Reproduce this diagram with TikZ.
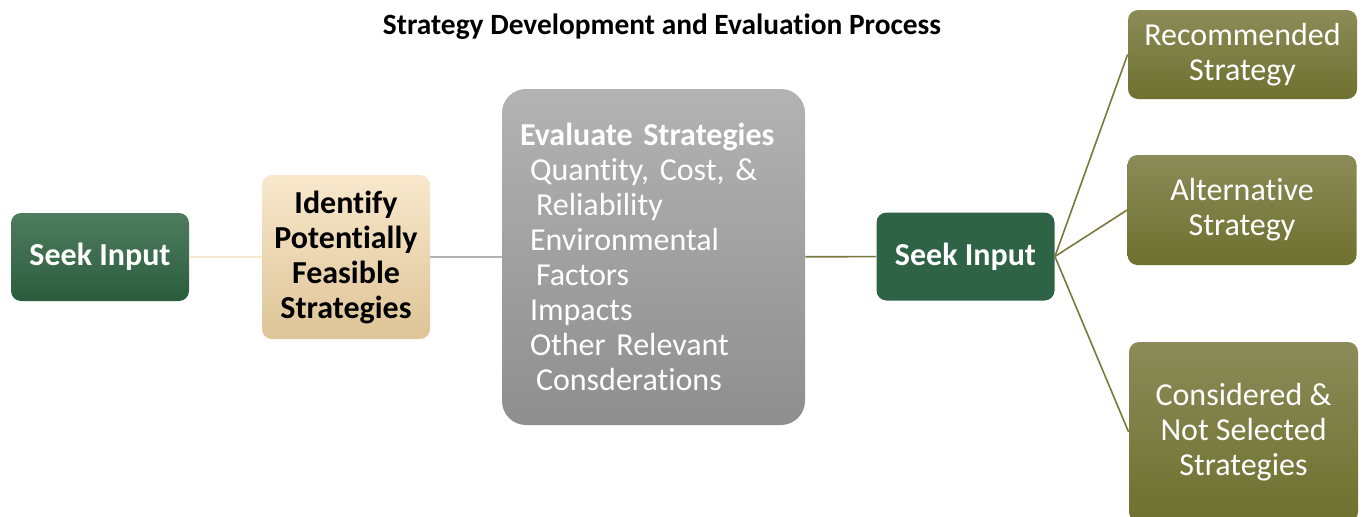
\documentclass[tikz,border=0pt]{standalone}
\usepackage{fontspec}
\setmainfont{Carlito}[Ligatures=NoCommon]
\usepackage{xcolor}
\usepackage{tikz}
\usetikzlibrary{positioning}

\definecolor{greenTop}{HTML}{4F7C5F}
\definecolor{greenBot}{HTML}{2A5D3C}
\definecolor{greenFlat}{HTML}{2F6346}
\definecolor{tanTop}{HTML}{F8E8CC}
\definecolor{tanBot}{HTML}{DEC497}
\definecolor{grayTop}{HTML}{B3B3B3}
\definecolor{grayBot}{HTML}{8E8E8E}
\definecolor{oliveTop}{HTML}{8B8B58}
\definecolor{oliveBot}{HTML}{6E712F}
\definecolor{oliveLine}{HTML}{7A783A}

\begin{document}
\begin{tikzpicture}[
  x=0.5pt, y=-0.5pt,
  font=\fontsize{16}{17.5}\selectfont,
  box/.style={rounded corners=5pt, inner sep=0pt, align=center},
  seek/.style={box, text=white, font=\fontsize{16}{17.5}\selectfont\bfseries, minimum width=89pt, minimum height=44pt},
  ident/.style={box, shading=axis, top color=tanTop, bottom color=tanBot, font=\fontsize{16}{17.5}\selectfont\bfseries, minimum width=84pt, minimum height=82pt},
  evalbox/.style={rounded corners=12pt, shading=axis, top color=grayTop, bottom color=grayBot, text=white, align=left, inner xsep=9pt, inner ysep=0pt, text width=133.5pt, minimum height=168pt},
  outcome/.style={box, shading=axis, top color=oliveTop, bottom color=oliveBot, text=white, minimum width=114.5pt},
  link/.style={line width=0.8pt}
]
  \useasboundingbox (0,0) rectangle (1365,516);

  \node[font=\fontsize{14.7}{16}\selectfont\bfseries] (title) at (662,27) {Strategy Development and Evaluation Process};

  \node[seek, shading=axis, top color=greenTop, bottom color=greenBot] (s_in1) at (100,257) {Seek Input};
  \node[ident] (idfy) at (346,257) {Identify\\Potentially\\Feasible\\Strategies};
  \node[evalbox] (evals) at (653.5,257) {
    \textbf{Evaluate Strategies}\\
    \hspace*{5pt}Quantity, Cost, \&\\
    \hspace*{8pt}Reliability\\
    \hspace*{5pt}Environmental\\
    \hspace*{8pt}Factors\\
    \hspace*{5pt}Impacts\\
    \hspace*{5pt}Other Relevant\\
    \hspace*{8pt}Consderations
  };
  \node[seek, fill=greenFlat] (s_in2) at (965.5,256.5) {Seek Input};
  \node[outcome, minimum height=44.5pt] (rec) at (1242.5,54.5) {Recommended\\Strategy};
  \node[outcome, minimum height=55pt] (alt) at (1242,210) {Alternative\\Strategy};
  \node[outcome, minimum height=90pt] (cons) at (1243.5,432) {Considered \&\\Not Selected\\Strategies};

  \draw[link, color=tanTop] (s_in1) -- (idfy);
  \draw[link, color=grayTop] (idfy) -- (evals);
  \draw[link, color=oliveLine] (evals) -- (s_in2);
  \draw[link, color=oliveLine] (s_in2.east) -- (rec.west);
  \draw[link, color=oliveLine] (s_in2.east) -- (alt.west);
  \draw[link, color=oliveLine] (s_in2.east) -- (cons.west);
\end{tikzpicture}
\end{document}
